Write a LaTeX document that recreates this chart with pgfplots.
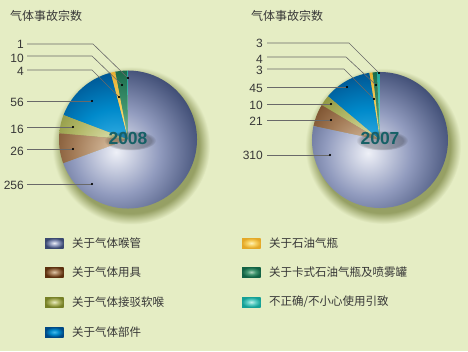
\documentclass[border=0pt]{standalone}
\usepackage{pgfplots}
\pgfplotsset{compat=1.18}
\usepackage{pgfplotstable}
\usetikzlibrary{fadings}
\usepackage{fontspec}
\setmainfont{Liberation Sans}
\newfontfamily\cjk{Noto Sans CJK SC}

\definecolor{bg}{RGB}{229,237,196}
\definecolor{shd}{RGB}{150,160,100}
\definecolor{txt}{RGB}{55,55,55}
\definecolor{yr}{RGB}{22,96,102}
\definecolor{lead}{RGB}{105,105,105}
% 0 teal, 1 green, 2 yellow, 3 blue, 4 olive, 5 brown, 6 hose
\definecolor{c0L}{RGB}{195,242,236}\definecolor{c0M}{RGB}{90,205,195}\definecolor{c0D}{RGB}{20,160,150}
\definecolor{c1L}{RGB}{175,212,190}\definecolor{c1M}{RGB}{65,150,112}\definecolor{c1D}{RGB}{18,98,68}
\definecolor{c2L}{RGB}{255,242,185}\definecolor{c2M}{RGB}{247,208,95}\definecolor{c2D}{RGB}{228,168,40}
\definecolor{c3L}{RGB}{70,185,235}\definecolor{c3M}{RGB}{0,138,203}\definecolor{c3D}{RGB}{0,72,132}
\definecolor{c4L}{RGB}{232,234,192}\definecolor{c4M}{RGB}{178,184,104}\definecolor{c4D}{RGB}{118,128,38}
\definecolor{c5L}{RGB}{222,198,168}\definecolor{c5M}{RGB}{162,122,86}\definecolor{c5D}{RGB}{92,48,14}
\definecolor{c6L}{RGB}{238,240,247}\definecolor{c6M}{RGB}{145,155,190}\definecolor{c6D}{RGB}{58,72,112}

\foreach \k in {0,...,6}{%
  \pgfdeclareradialshading{sh\k}{\pgfpoint{0bp}{0bp}}{color(0bp)=(c\k L); color(12bp)=(c\k M); color(25bp)=(c\k D); color(50bp)=(c\k D)}}
\pgfdeclareradialshading{shadowsh}{\pgfpoint{0bp}{0bp}}{color(0bp)=(shd); color(21.5bp)=(shd); color(25bp)=(bg); color(50bp)=(bg)}

% data: rows counter-clockwise from 12 o'clock
\pgfplotstableread{
idx value
0 1
1 10
2 4
3 56
4 16
5 26
6 256
}\pieA
\pgfplotstableread{
idx value
0 3
1 4
2 3
3 45
4 10
5 21
6 310
}\pieB

\newcommand\computepie[2]{%
  \gdef\pietot{0}%
  \foreach \i in {0,...,6}{%
    \pgfplotstablegetelem{\i}{value}\of{#1}%
    \pgfmathsetmacro\pieT{\pietot+\pgfplotsretval}\xdef\pietot{\pieT}}%
  \gdef\pieacc{90}%
  \foreach \i in {0,...,6}{%
    \pgfplotstablegetelem{\i}{value}\of{#1}%
    \pgfmathsetmacro\pieS{\pieacc}%
    \pgfmathsetmacro\pieF{\pgfplotsretval/\pietot}%
    \pgfmathsetmacro\pieE{\pieacc+360*\pieF}%
    \expandafter\xdef\csname #2s\i\endcsname{\pieS}%
    \expandafter\xdef\csname #2e\i\endcsname{\pieE}%
    \xdef\pieacc{\pieE}}%
}
\computepie{\pieA}{pa}
\computepie{\pieB}{pb}

% #1 name, #2 cx, #3 cy, #4 r, #5 hx, #6 hy
\newcommand\drawpie[6]{%
  \shade[shading=shadowsh] (axis cs:#2+3,#3-6) circle[radius=#4pt+10pt];
  \foreach \i in {0,...,6}{%
    \begin{scope}
      \clip (axis cs:#2,#3) -- ++(\csname #1s\i\endcsname:#4pt)
        arc[start angle=\csname #1s\i\endcsname, end angle=\csname #1e\i\endcsname, radius=#4pt] -- cycle;
      \shade[shading=sh\i] (axis cs:#5,#6) circle[radius=90pt];
    \end{scope}}%
}

\begin{document}
\begin{tikzpicture}
\begin{axis}[hide axis, scale only axis, width=468pt, height=351pt,
  xmin=0, xmax=468, ymin=0, ymax=351, clip=false]
\pgfplotsextra{%
  \fill[bg] (axis cs:0,0) rectangle (axis cs:468,351);
  \drawpie{pa}{128}{211.5}{69}{116}{199}
  \drawpie{pb}{380}{211}{68}{368}{198}
}
% leader lines, 2008
\addplot[lead, line width=0.6pt, mark=none] coordinates {(27,307) (93,307) (128,273)};
\addplot[lead, line width=0.6pt, mark=none] coordinates {(27,295) (92,295) (122,266)};
\addplot[lead, line width=0.6pt, mark=none] coordinates {(27,281) (92,281) (119,254)};
\addplot[lead, line width=0.6pt, mark=none] coordinates {(27,250) (92,250)};
\addplot[lead, line width=0.6pt, mark=none] coordinates {(27,224) (73,224)};
\addplot[lead, line width=0.6pt, mark=none] coordinates {(27,202) (73,202)};
\addplot[lead, line width=0.6pt, mark=none] coordinates {(27,167) (92,167)};
\addplot[only marks, mark=*, mark size=0.8pt, black] coordinates {(128,273) (122,266) (119,254) (92,250) (73,224) (73,202) (92,167)};
% leader lines, 2007
\addplot[lead, line width=0.6pt, mark=none] coordinates {(267,308) (349,308) (379,278)};
\addplot[lead, line width=0.6pt, mark=none] coordinates {(267,294) (346,294) (376,266)};
\addplot[lead, line width=0.6pt, mark=none] coordinates {(267,282) (344,282) (374,252)};
\addplot[lead, line width=0.6pt, mark=none] coordinates {(267,264) (347,264)};
\addplot[lead, line width=0.6pt, mark=none] coordinates {(267,247) (331,247)};
\addplot[lead, line width=0.6pt, mark=none] coordinates {(267,231) (331,231)};
\addplot[lead, line width=0.6pt, mark=none] coordinates {(267,196) (330,196)};
\addplot[only marks, mark=*, mark size=0.8pt, black] coordinates {(379,278) (376,266) (374,252) (347,264) (331,247) (331,231) (330,196)};
\pgfplotsextra{%
  % titles
  \node[anchor=west, text=txt, font=\cjk\fontsize{12}{14}\selectfont, inner sep=0pt] at (axis cs:10,335) {气体事故宗数};
  \node[anchor=west, text=txt, font=\cjk\fontsize{12}{14}\selectfont, inner sep=0pt] at (axis cs:251,335) {气体事故宗数};
  % value labels
  \foreach \y/\t in {307/1, 293/10, 280/4, 249/56, 222/16, 200/26, 166/256}
    \node[anchor=east, text=txt, font=\fontsize{12}{14}\selectfont, inner sep=0pt] at (axis cs:24,\y) {\t};
  \foreach \y/\t in {308/3, 292/4, 281/3, 263/45, 246/10, 230/21, 196/310}
    \node[anchor=east, text=txt, font=\fontsize{12}{14}\selectfont, inner sep=0pt] at (axis cs:263,\y) {\t};
  % soft shadow behind the year labels
  \foreach \x in {130, 382}{
    \fill[black, opacity=0.25, path fading=circle with fuzzy edge 20 percent] (axis cs:\x,210.5) ellipse[x radius=26pt, y radius=10pt];
  }
  % year labels
  \node[text=yr, font=\bfseries\fontsize{17.5}{20}\selectfont] at (axis cs:128,213) {2008};
  \node[text=yr, font=\bfseries\fontsize{17.5}{20}\selectfont] at (axis cs:380,213) {2007};
  % legend
  \foreach \k/\x/\y/\t in {6/45/108/{关于气体喉管}, 5/45/79/{关于气体用具}, 4/45/49/{关于气体接驳软喉}, 3/45/19/{关于气体部件},
                           2/242/108/{关于石油气瓶}, 1/242/79/{关于卡式石油气瓶及喷雾罐}, 0/242/49/{不正确/不小心使用引致}}{
    \shade[shading=sh\k] (axis cs:\x,\y-5) rectangle (axis cs:\x+18.5,\y+5);
    \node[anchor=west, text=txt, font=\cjk\fontsize{11.5}{14}\selectfont, inner sep=0pt] at (axis cs:\x+27,\y) {\t};
  }
}
\end{axis}
\end{tikzpicture}
\end{document}
